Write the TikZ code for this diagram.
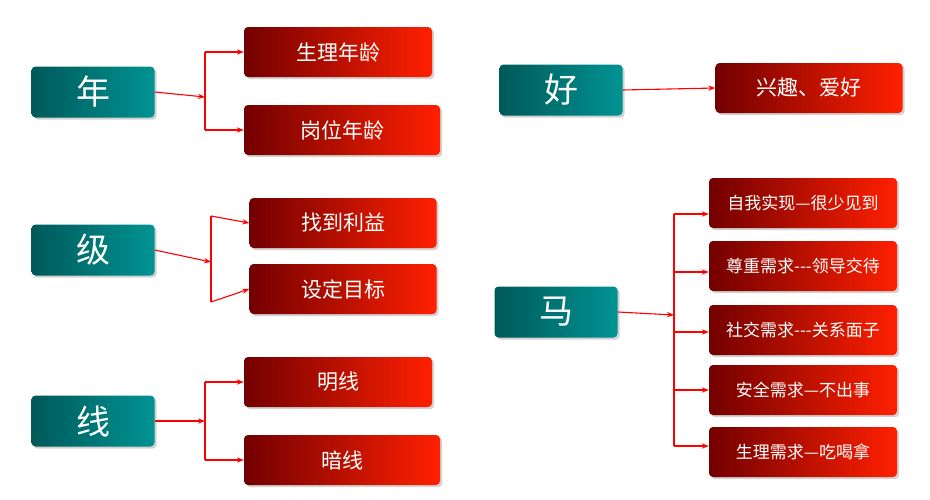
\documentclass[tikz,border=0pt]{standalone}
\usepackage{fontspec}
\newfontfamily\cjk{Noto Sans CJK SC}
\usetikzlibrary{shadows,arrows.meta}
\tikzset{
  keybox/.style={draw=none, rounded corners=4pt, minimum width=123pt, minimum height=51pt,
    left color=teal!70!black, right color=teal!85!cyan, text=white,
    font=\cjk\fontsize{34}{34}\selectfont, drop shadow={opacity=0.35}},
  itembox/.style={draw=none, rounded corners=4pt, minimum height=50pt,
    left color=red!45!black, right color=red!75!orange, text=white,
    font=\cjk\fontsize{21}{21}\selectfont, drop shadow={opacity=0.35}},
  smallbox/.style={itembox, minimum width=188pt, font=\cjk\fontsize{17}{17}\selectfont},
  link/.style={red, line width=1.1pt, -{Stealth[length=7pt]}},
  bar/.style={red, line width=1.1pt}
}
\begin{document}
\begin{tikzpicture}[x=1pt,y=-1pt]
\useasboundingbox[fill=white] (0,0) rectangle (930,499);
% Left keys
\node[keybox] (nian) at (93,92) {年};
\node[keybox] (ji) at (93,250) {级};
\node[keybox] (xian) at (93,421) {线};
\node[keybox] (hao) at (561,90) {好};
\node[keybox] (ma) at (556,312) {马};
% Items
\node[itembox, minimum width=188pt] (age1) at (338,52) {生理年龄};
\node[itembox, minimum width=196pt] (age2) at (342,130) {岗位年龄};
\node[itembox, minimum width=187pt] (gain) at (343,223) {找到利益};
\node[itembox, minimum width=187pt] (goal) at (343,289) {设定目标};
\node[itembox, minimum width=188pt] (ming) at (338,382) {明线};
\node[itembox, minimum width=196pt] (an) at (342,460) {暗线};
\node[itembox, minimum width=187pt] (hobby) at (809,88) {兴趣、爱好};
\node[smallbox] (m1) at (803,203) {自我实现—很少见到};
\node[smallbox] (m2) at (803,266) {尊重需求---领导交待};
\node[smallbox] (m3) at (803,330) {社交需求---关系面子};
\node[smallbox] (m4) at (803,390) {安全需求—不出事};
\node[smallbox] (m5) at (803,452) {生理需求—吃喝拿};
% Brackets
\coordinate (b1) at (205,97);
\draw[link] (nian.east) -- (b1);
\draw[bar] (205,52) -- (205,130);
\draw[link] (205,52) -- (age1.west);
\draw[link] (205,130) -- (age2.west);
\coordinate (b2) at (211,262);
\draw[link] (ji.east) -- (b2);
\draw[bar] (211,216) -- (211,302);
\draw[link] (211,216) -- (gain.west);
\draw[link] (211,302) -- (goal.west);
\coordinate (b3) at (205,421);
\draw[link] (xian.east) -- (b3);
\draw[bar] (205,382) -- (205,460);
\draw[link] (205,382) -- (ming.west);
\draw[link] (205,460) -- (an.west);
\draw[link] (hao.east) -- (hobby.west);
\coordinate (b4) at (674,315);
\draw[link] (ma.east) -- (b4);
\draw[bar] (674,214) -- (674,446);
\foreach \m/\y in {m1/214, m2/272, m3/332, m4/390, m5/446}
  \draw[link] (674,\y) -- (\m.west |- 0,\y);
\end{tikzpicture}
\end{document}
